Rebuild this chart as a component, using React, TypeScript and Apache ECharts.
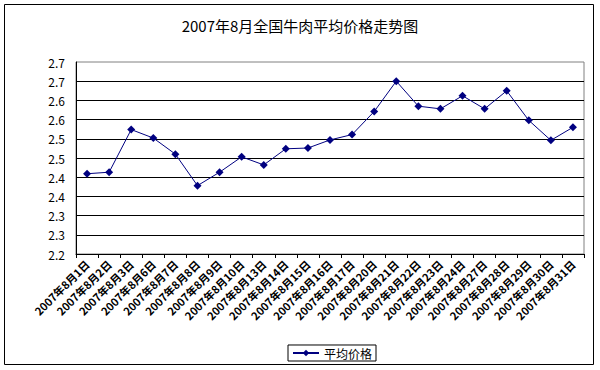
import React, { useEffect, useRef } from "react";
import * as echarts from "echarts";

const titleText = "2007年8月全国牛肉平均价格走势图";
const seriesName = "平均价格";
const days = [1, 2, 3, 6, 7, 8, 9, 10, 13, 14, 15, 16, 17, 20, 21, 22, 23, 24, 27, 28, 29, 30, 31];
const categories = days.map((d) => `2007年8月${d}日`);
const prices = [
  2.409, 2.413, 2.524, 2.502, 2.46, 2.378, 2.413, 2.453, 2.432, 2.474, 2.476, 2.497,
  2.511, 2.571, 2.65, 2.585, 2.578, 2.612, 2.578, 2.625, 2.548, 2.496, 2.53,
];
const yTickLabels = ["2.2", "2.3", "2.3", "2.4", "2.4", "2.5", "2.5", "2.6", "2.6", "2.7", "2.7"];

export default function App() {
  const ref = useRef<HTMLDivElement>(null);
  useEffect(() => {
    document.body.style.margin = "0";
    const chart = echarts.init(ref.current!, null, { renderer: "svg" });
    chart.setOption({
      animation: false,
      backgroundColor: "#fff",
      textStyle: { fontFamily: "'Noto Sans CJK SC', 'DejaVu Sans', sans-serif" },
      title: {
        text: titleText,
        left: "center",
        top: 13,
        textStyle: { fontSize: 15, fontWeight: "normal", color: "#000" },
      },
      graphic: [
        {
          type: "rect",
          shape: { x: 4.5, y: 4.5, width: 589, height: 360 },
          style: { fill: "none", stroke: "#000", lineWidth: 1 },
          silent: true,
        },
      ],
      grid: {
        left: 76,
        right: 16,
        top: 62,
        bottom: 116,
        show: true,
        borderColor: "#808080",
        borderWidth: 1,
      },
      legend: {
        bottom: 9,
        left: 288,
        data: [seriesName],
        itemWidth: 26,
        itemHeight: 8,
        itemGap: 4,
        borderColor: "#000",
        borderWidth: 1,
        borderRadius: 0,
        padding: [2, 4, 2, 4],
        textStyle: { fontSize: 12, color: "#000" },
      },
      xAxis: {
        type: "category",
        data: categories,
        boundaryGap: true,
        axisLine: { lineStyle: { color: "#000", width: 1 } },
        axisTick: { show: true, length: 4, alignWithLabel: false, lineStyle: { color: "#000" } },
        axisLabel: {
          interval: 0,
          rotate: 45,
          fontSize: 11,
          fontWeight: "bold",
          color: "#000",
          margin: 8,
        },
      },
      yAxis: {
        type: "value",
        min: 2.2,
        max: 2.7,
        interval: 0.05,
        axisLine: { show: true, lineStyle: { color: "#000", width: 1 } },
        axisTick: { show: false },
        axisLabel: {
          fontSize: 12,
          color: "#000",
          margin: 11,
          formatter: (_v: number, i: number) => yTickLabels[i],
        },
        splitLine: {
          show: true,
          showMinLine: false,
          showMaxLine: false,
          lineStyle: { color: "#000", width: 1 },
        },
      },
      series: [
        {
          name: seriesName,
          type: "line",
          data: prices,
          symbol: "diamond",
          symbolSize: 8,
          itemStyle: { color: "#000080" },
          lineStyle: { color: "#000080", width: 1 },
        },
      ],
    });
    return () => chart.dispose();
  }, []);
  return <div ref={ref} style={{ width: 600, height: 370 }} />;
}
